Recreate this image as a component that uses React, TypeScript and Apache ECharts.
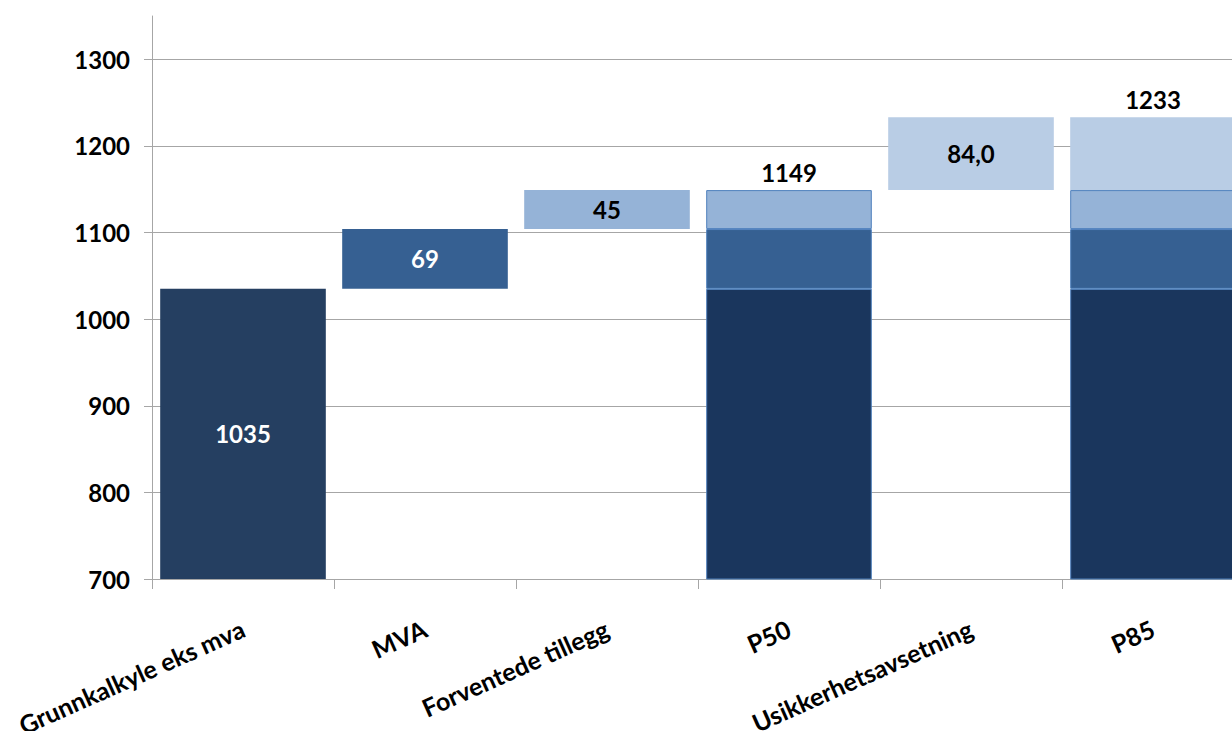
import React, { useEffect, useRef } from "react";
import * as echarts from "echarts";

const categories = [
  "Grunnkalkyle eks mva",
  "MVA",
  "Forventede tillegg",
  "P50",
  "Usikkerhetsavsetning",
  "P85",
];
const grunnkalkyle = 1035;
const mva = 69;
const tillegg = 45;
const usikkerhet = 84;
const yTicks = [700, 800, 900, 1000, 1100, 1200, 1300];

const FONT = "Lato";
const C_GRUNN = "#253F61";
const C_BASE = "#1A365D";
const C_MVA = "#366092";
const C_TILLEGG = "#95B3D7";
const C_USIKKER = "#B9CDE5";
const C_BORDER = "#4F81BD";

export default function App() {
  const ref = useRef<HTMLDivElement>(null);
  useEffect(() => {
    if (!ref.current) return;
    document.body.style.overflow = "hidden";
    const chart = echarts.init(ref.current, undefined, { renderer: "svg" });
    const p50 = grunnkalkyle + mva + tillegg;
    const p85 = p50 + usikkerhet;
    const labelBase = { show: true, fontFamily: FONT, fontWeight: "bold", fontSize: 24 };
    const seg = (v: number, color: string, border = false, extra: any = {}) => ({
      value: v,
      itemStyle: border
        ? { color, borderColor: C_BORDER, borderWidth: 1 }
        : { color, borderWidth: 0 },
      ...extra,
    });
    const option: any = {
      animation: false,
      backgroundColor: "#ffffff",
      grid: {
        left: 152,
        right: 0,
        top: 16,
        bottom: 152,
        containLabel: false,
        outerBoundsMode: "none",
      },
      xAxis: {
        type: "category",
        data: categories,
        axisLine: { show: true, lineStyle: { color: "#A6A6A6", width: 1 } },
        axisTick: { show: true, length: 10, alignWithLabel: false, lineStyle: { color: "#A6A6A6" } },
        axisLabel: {
          interval: 0,
          rotate: 24,
          margin: 48,
          color: "#000",
          fontFamily: FONT,
          fontWeight: "bold",
          fontSize: 25,
        },
        splitLine: { show: false },
      },
      yAxis: {
        type: "value",
        min: 700,
        max: 1350,
        interval: 50,
        axisLine: { show: true, lineStyle: { color: "#A6A6A6", width: 1 } },
        axisTick: { show: true, length: 8, customValues: yTicks, lineStyle: { color: "#A6A6A6" } },
        axisLabel: {
          customValues: yTicks,
          margin: 22,
          color: "#000",
          fontFamily: FONT,
          fontWeight: "bold",
          fontSize: 24,
          formatter: (v: number) => String(v),
        },
        splitLine: { show: false },
      },
      series: [
        {
          name: "base",
          type: "bar",
          stack: "w",
          barCategoryGap: "9%",
          silent: true,
          itemStyle: { color: "transparent" },
          data: ["-", grunnkalkyle, grunnkalkyle + mva, "-", p50, "-"],
          markLine: {
            silent: true,
            symbol: "none",
            label: { show: false },
            lineStyle: { color: "#A6A6A6", type: "solid", width: 1 },
            data: yTicks.filter((t) => t > 700).map((t) => ({ yAxis: t })),
            z: 0,
          },
          z: 1,
        },
        {
          name: "Grunnkalkyle",
          type: "bar",
          stack: "w",
          barCategoryGap: "9%",
          z: 3,
          data: [
            seg(grunnkalkyle, C_GRUNN, false, {
              label: { ...labelBase, position: "inside", color: "#fff" },
            }),
            "-",
            "-",
            seg(grunnkalkyle, C_BASE, true),
            "-",
            seg(grunnkalkyle, C_BASE, true),
          ],
        },
        {
          name: "MVA",
          type: "bar",
          stack: "w",
          barCategoryGap: "9%",
          z: 3,
          data: [
            "-",
            seg(mva, C_MVA, false, {
              label: { ...labelBase, position: "inside", color: "#fff" },
            }),
            "-",
            seg(mva, C_MVA, true),
            "-",
            seg(mva, C_MVA, true),
          ],
        },
        {
          name: "Forventede tillegg",
          type: "bar",
          stack: "w",
          barCategoryGap: "9%",
          z: 3,
          data: [
            "-",
            "-",
            seg(tillegg, C_TILLEGG, false, {
              label: { ...labelBase, position: "inside", color: "#000" },
            }),
            seg(tillegg, C_TILLEGG, true, {
              label: {
                ...labelBase,
                position: "top",
                distance: 6,
                color: "#000",
                formatter: () => String(p50),
              },
            }),
            "-",
            seg(tillegg, C_TILLEGG, true),
          ],
        },
        {
          name: "Usikkerhetsavsetning",
          type: "bar",
          stack: "w",
          barCategoryGap: "9%",
          z: 3,
          data: [
            "-",
            "-",
            "-",
            "-",
            seg(usikkerhet, C_USIKKER, false, {
              label: {
                ...labelBase,
                position: "inside",
                color: "#000",
                formatter: () => usikkerhet.toFixed(1).replace(".", ","),
              },
            }),
            seg(usikkerhet, C_USIKKER, false, {
              label: {
                ...labelBase,
                position: "top",
                distance: 6,
                color: "#000",
                formatter: () => String(p85),
              },
            }),
          ],
        },
      ],
    };
    chart.setOption(option);
    return () => chart.dispose();
  }, []);
  return (
    <div
      ref={ref}
      style={{ position: "fixed", left: 0, top: 0, width: 1244, height: 731, background: "#fff" }}
    />
  );
}
